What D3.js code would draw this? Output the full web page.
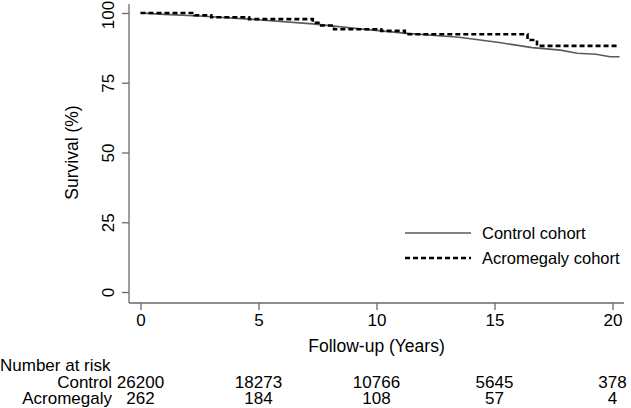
<!DOCTYPE html>
<html>
<head>
<meta charset="utf-8">
<script src="https://cdn.jsdelivr.net/npm/d3@7"></script>
<style>
  body { margin: 0; background: #fff; }
  text { font-family: "Liberation Sans", Arial, sans-serif; }
</style>
</head>
<body>
<div id="chart"></div>
<script>
// Kaplan-Meier estimates
const controlYears = [0, 1, 2.5, 4.6, 7.3, 9.3, 11.3, 13.5, 15.2, 16.6, 17.8, 18.5, 19.3, 19.9, 20.3];
const controlSurv  = [100, 99.5, 98.9, 97.8, 96.1, 94.3, 92.7, 91.3, 89.4, 87.6, 86.7, 85.6, 85.2, 84.3, 84.3];

const acroYears = [0, 2.3, 3.0, 4.6, 7.3, 7.6, 8.2, 10.2, 11.2, 16.4, 16.8, 20.3];
const acroSurv  = [100, 99.2, 98.5, 97.8, 96.5, 95.5, 94.2, 93.6, 92.4, 90.3, 88.2, 88.2];

const xTicks = [0, 5, 10, 15, 20];
const yTicks = [0, 25, 50, 75, 100];

const riskGroups = ["Control", "Acromegaly"];
const riskControl = [26200, 18273, 10766, 5645, 378];
const riskAcro = [262, 184, 108, 57, 4];

const seriesNames = ["Control cohort", "Acromegaly cohort"];

const width = 631, height = 408;
const axisColor = "#6a6a6a";
const fontSize = 17.5;
const tickSize = 17;
const legendSize = 16.5;
const tableSize = 17;

const svg = d3.select("#chart")
  .append("svg")
    .attr("width", width)
    .attr("height", height);

const x = d3.scaleLinear().domain([0, 20]).range([140.5, 612.5]);
const y = d3.scaleLinear().domain([0, 100]).range([292, 13]);

const axisX0 = 129, axisY0 = 303;

// axis lines
svg.append("line")
  .attr("x1", axisX0).attr("x2", axisX0)
  .attr("y1", axisY0).attr("y2", 4)
  .attr("stroke", axisColor).attr("stroke-width", 1.3);
svg.append("line")
  .attr("x1", axisX0).attr("x2", 624)
  .attr("y1", axisY0).attr("y2", axisY0)
  .attr("stroke", axisColor).attr("stroke-width", 1.3);

// x axis ticks
const gx = svg.append("g")
  .attr("transform", `translate(0,${axisY0})`)
  .call(d3.axisBottom(x).tickValues(xTicks).tickSize(7).tickPadding(4).tickFormat(d3.format("d")));
gx.select(".domain").remove();
gx.selectAll(".tick line").attr("stroke", axisColor).attr("stroke-width", 1.3);
gx.selectAll(".tick text")
  .attr("font-size", tickSize)
  .attr("font-family", "Liberation Sans, Arial, sans-serif")
  .attr("fill", "#000");

// y axis ticks, labels rotated
const gy = svg.append("g")
  .attr("transform", `translate(${axisX0},0)`)
  .call(d3.axisLeft(y).tickValues(yTicks).tickSize(7).tickFormat(d3.format("d")));
gy.select(".domain").remove();
gy.selectAll(".tick line").attr("stroke", axisColor).attr("stroke-width", 1.3);
gy.selectAll(".tick text")
  .attr("x", null).attr("dy", null)
  .attr("transform", d => `translate(-15,${d === 100 ? 1.5 : 0}) rotate(-90)`)
  .attr("text-anchor", "middle")
  .attr("font-size", tickSize)
  .attr("font-family", "Liberation Sans, Arial, sans-serif")
  .attr("fill", "#000");

// axis titles
svg.append("text")
  .attr("transform", `translate(78,${(y(0) + y(100)) / 2}) rotate(-90)`)
  .attr("text-anchor", "middle")
  .attr("font-size", fontSize)
  .text("Survival (%)");

svg.append("text")
  .attr("x", x(10))
  .attr("y", 352)
  .attr("text-anchor", "middle")
  .attr("font-size", fontSize)
  .text("Follow-up (Years)");

// curves
const controlData = controlYears.map((t, i) => [t, controlSurv[i]]);
const acroData = acroYears.map((t, i) => [t, acroSurv[i]]);

const smoothLine = d3.line().x(d => x(d[0])).y(d => y(d[1]));
const stepLine = d3.line().x(d => x(d[0])).y(d => y(d[1])).curve(d3.curveStepAfter);

svg.append("path")
  .datum(controlData)
  .attr("d", smoothLine)
  .attr("fill", "none")
  .attr("stroke", "#5a5a5a")
  .attr("stroke-width", 1.6);

svg.append("path")
  .datum(acroData)
  .attr("d", stepLine)
  .attr("fill", "none")
  .attr("stroke", "#000")
  .attr("stroke-width", 2.6)
  .attr("stroke-dasharray", "5,3");

// legend
const legend = svg.append("g");
[0, 1].forEach(i => {
  const ly = 233 + i * 25;
  legend.append("line")
    .attr("x1", 405).attr("x2", 471)
    .attr("y1", ly).attr("y2", ly)
    .attr("stroke", i === 0 ? "#5a5a5a" : "#000")
    .attr("stroke-width", i === 0 ? 1.6 : 2.6)
    .attr("stroke-dasharray", i === 0 ? null : "5,3");
  legend.append("text")
    .attr("x", 482)
    .attr("y", ly + 6)
    .attr("font-size", legendSize)
    .text(seriesNames[i]);
});

// number at risk table
svg.append("text")
  .attr("x", 0)
  .attr("y", 371)
  .attr("font-size", tableSize)
  .text("Number at risk");

[riskControl, riskAcro].forEach((row, r) => {
  const ry = 387.5 + r * 16.5;
  svg.append("text")
    .attr("x", 112)
    .attr("y", ry)
    .attr("text-anchor", "end")
    .attr("font-size", tableSize)
    .text(riskGroups[r]);
  svg.selectAll(null)
    .data(row)
    .join("text")
      .attr("x", (d, i) => x(xTicks[i]))
      .attr("y", ry)
      .attr("text-anchor", "middle")
      .attr("font-size", tableSize)
      .text(d => d);
});
</script>
</body>
</html>
